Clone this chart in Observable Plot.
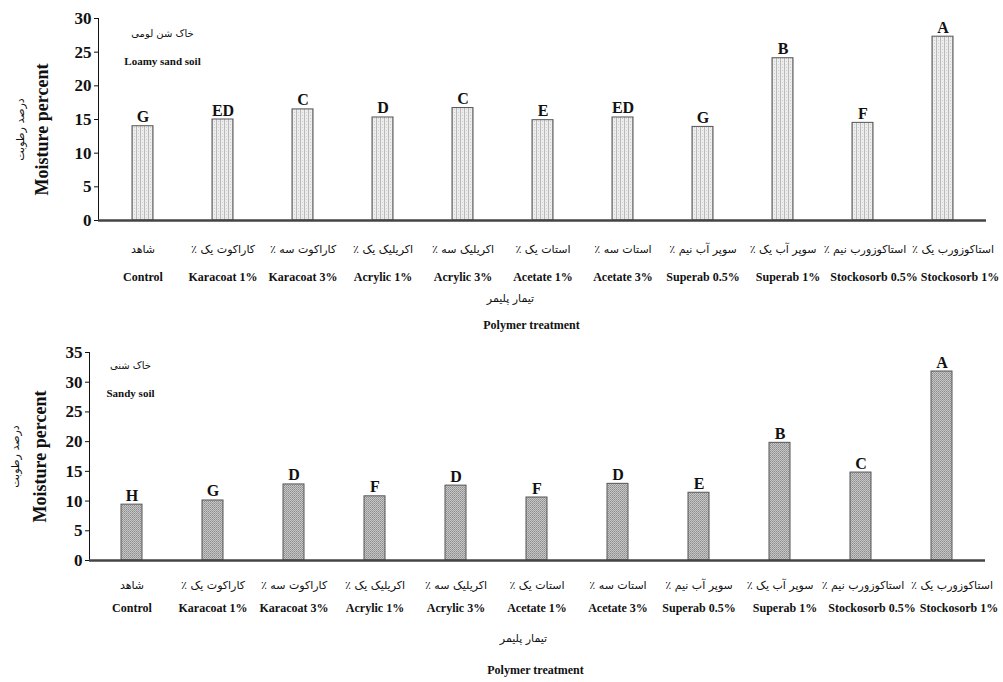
<!DOCTYPE html>
<html><head><meta charset="utf-8">
<script src="https://cdn.jsdelivr.net/npm/d3@7"></script>
<script src="https://cdn.jsdelivr.net/npm/@observablehq/plot@0.6"></script>
<style>
body{margin:0;background:#fff;}
#wrap{position:relative;width:1003px;height:682px;overflow:hidden;background:#fff;}
#top,#bottom{position:absolute;left:0;}
#top{top:0px;} #bottom{top:335px;}
</style></head><body>
<svg width="0" height="0" style="position:absolute">
<defs>
<pattern id="pLight" width="4" height="3" patternUnits="userSpaceOnUse">
<rect width="4" height="3" fill="#ededed"/>
<rect x="0" width="1" height="3" fill="#b9b9b9"/>
<rect x="2" y="1" width="1" height="1" fill="#cdcdcd"/>
</pattern>
<pattern id="pDark" width="2" height="2" patternUnits="userSpaceOnUse">
<rect width="2" height="2" fill="#c6c6c6"/>
<rect width="1" height="1" fill="#8c8c8c"/>
<rect x="1" y="1" width="1" height="1" fill="#a0a0a0"/>
</pattern>
</defs></svg>
<div id="wrap"><div id="top"></div><div id="bottom"></div></div>
<script>
// ---- data ----
const categoriesEn = ["Control","Karacoat 1%","Karacoat 3%","Acrylic 1%","Acrylic 3%","Acetate 1%","Acetate 3%","Superab 0.5%","Superab 1%","Stockosorb 0.5%","Stockosorb 1%"];
const categoriesFa = ["شاهد","کاراکوت یک ٪","کاراکوت سه ٪","اکریلیک یک ٪","اکریلیک سه ٪","استات یک ٪","استات سه ٪","سوپر آب نیم ٪","سوپر آب یک ٪","استاکوزورب نیم ٪","استاکوزورب یک ٪"];
const loamyValues = [14.0, 15.0, 16.5, 15.3, 16.7, 14.9, 15.3, 13.9, 24.1, 14.5, 27.3];
const loamyLetters = ["G","ED","C","D","C","E","ED","G","B","F","A"];
const sandyValues = [9.4, 10.1, 12.8, 10.8, 12.6, 10.6, 12.9, 11.4, 19.8, 14.8, 31.8];
const sandyLetters = ["H","G","D","F","D","F","D","E","B","C","A"];
const loamyTicks = [0,5,10,15,20,25,30];
const sandyTicks = [0,5,10,15,20,25,30,35];
const yTitleEn = "Moisture percent";
const yTitleFa = "درصد رطوبت";
const xTitleEn = "Polymer treatment";
const xTitleFa = "تیمار پلیمر";
const loamyTitleFa = "خاک شن لومی", loamyTitleEn = "Loamy sand soil";
const sandyTitleFa = "خاک شنی", sandyTitleEn = "Sandy soil";

// ---- helpers ----
const serif = "'Liberation Serif', 'Times New Roman', serif";
const faFont = "'DejaVu Sans', sans-serif";
const faOf = new Map(categoriesEn.map((c, i) => [c, categoriesFa[i]]));
const enShift = {"Superab 1%": 5, "Stockosorb 0.5%": 11, "Stockosorb 1%": 17};
const faShift = {"Stockosorb 1%": 10, "Stockosorb 0.5%": 2};
const txt = {textAnchor: "middle", lineAnchor: "middle", fill: "#111"};

function shiftedLabels(shifts, textFn, opts) {
  const groups = d3.group(categoriesEn, c => shifts[c] || 0);
  return [...groups].map(([dx, cs]) => Plot.text(cs, {...txt, ...opts, x: d => d, text: textFn, dx}));
}

function makeChart(cfg) {
  const rows = categoriesEn.map((c, i) => ({cat: c, value: cfg.values[i], letter: cfg.letters[i]}));
  return Plot.plot({
    width: 1003, height: cfg.height,
    marginLeft: cfg.ml, marginRight: cfg.mr, marginTop: cfg.mt, marginBottom: cfg.mb,
    style: {fontFamily: serif, fontWeight: "bold", fontSize: "17px", color: "#111", background: "#fff", overflow: "visible"},
    x: {domain: categoriesEn, axis: null, paddingInner: 0.74, paddingOuter: 0.37},
    y: {domain: [0, cfg.ticks[cfg.ticks.length - 1]], ticks: cfg.ticks, tickSize: 4, tickPadding: 3, line: true, label: null},
    marks: [
      Plot.barY(rows, {x: "cat", y: "value", fill: cfg.fill, stroke: "#555", strokeWidth: 1}),
      Plot.ruleY([0], {stroke: "#444", strokeWidth: 2.5}),
      Plot.text(rows, {x: "cat", y: "value", text: "letter", textAnchor: "middle", lineAnchor: "bottom", dy: -4, fontSize: 16, fontWeight: "bold", fontFamily: serif, fill: "#111"}),
      ...shiftedLabels(faShift, d => faOf.get(d) + "\u200F", {frameAnchor: "bottom", dy: cfg.faTickDy, fontFamily: faFont, fontWeight: "normal", fontSize: 11}),
      ...shiftedLabels(enShift, d => d, {frameAnchor: "bottom", dy: cfg.enTickDy, fontFamily: serif, fontWeight: "bold", fontSize: 12}),
      Plot.text([xTitleFa], {...txt, text: d => d, frameAnchor: "bottom", dx: cfg.faTitleDx, dy: cfg.faTitleDy, fontFamily: faFont, fontWeight: "normal", fontSize: 11}),
      Plot.text([xTitleEn], {...txt, text: d => d, frameAnchor: "bottom", dx: cfg.enTitleDx, dy: cfg.enTitleDy, fontFamily: serif, fontWeight: "bold", fontSize: 12}),
      Plot.text([yTitleEn], {...txt, text: d => d, frameAnchor: "left", rotate: -90, dx: cfg.yEnDx, dy: cfg.yDy, fontFamily: serif, fontWeight: "bold", fontSize: 18}),
      Plot.text([yTitleFa], {...txt, text: d => d, frameAnchor: "left", rotate: -90, dx: cfg.yFaDx, dy: cfg.yDy, fontFamily: faFont, fontWeight: "normal", fontSize: 11}),
      Plot.text([cfg.soilFa], {...txt, text: d => d, frameAnchor: "top-left", dx: cfg.soilDx, dy: cfg.soilFaDy, fontFamily: faFont, fontWeight: "normal", fontSize: 10}),
      Plot.text([cfg.soilEn], {...txt, text: d => d, frameAnchor: "top-left", dx: cfg.soilDx, dy: cfg.soilEnDy, fontFamily: serif, fontWeight: "bold", fontSize: 11})
    ]
  });
}

document.getElementById("top").append(makeChart({
  values: loamyValues, letters: loamyLetters, ticks: loamyTicks, fill: "url(#pLight)",
  height: 335, ml: 98, mr: 17, mt: 18, mb: 115,
  faTickDy: 29, enTickDy: 57, faTitleDx: -32, faTitleDy: 78, enTitleDx: -11, enTitleDy: 105,
  yEnDx: -56, yFaDx: -78, yDy: 10,
  soilFa: loamyTitleFa, soilEn: loamyTitleEn, soilDx: 64, soilFaDy: 15, soilEnDy: 43
}));
document.getElementById("bottom").append(makeChart({
  values: sandyValues, letters: sandyLetters, ticks: sandyTicks, fill: "url(#pDark)",
  height: 347, ml: 89, mr: 18, mt: 17, mb: 122,
  faTickDy: 25, enTickDy: 48, faTitleDx: -14, faTitleDy: 78, enTitleDx: -2, enTitleDy: 110,
  yEnDx: -49, yFaDx: -74, yDy: 0,
  soilFa: sandyTitleFa, soilEn: sandyTitleEn, soilDx: 41, soilFaDy: 13, soilEnDy: 41
}));
</script>
</body></html>
